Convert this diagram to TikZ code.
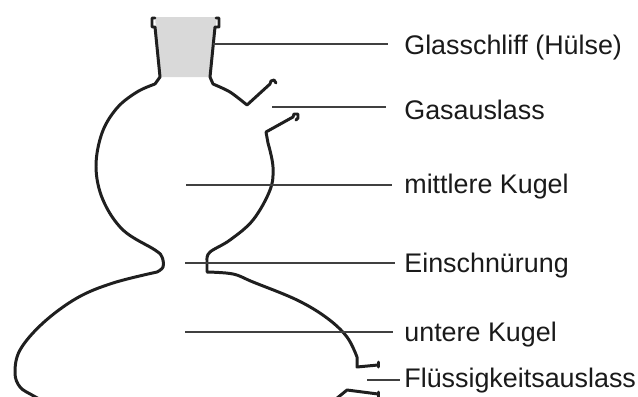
\documentclass[tikz,border=0pt]{standalone}
\usepackage{fontspec}
\setmainfont{Liberation Sans}
\usepackage{xcolor}
\definecolor{schliffgray}{HTML}{D9D9D9}
\definecolor{leadergray}{HTML}{404040}
\definecolor{labeltext}{HTML}{1A1A1A}

\begin{document}
\begin{tikzpicture}[x=0.02cm,y=-0.02cm]
  \tikzset{glasswall/.style={draw=black!88,line width=1.7pt,line join=round,line cap=round}}
  \tikzset{leader/.style={draw=leadergray,line width=0.75pt}}
  \tikzset{partlabel/.style={anchor=west,font=\fontsize{15.3pt}{17pt}\selectfont,inner sep=0pt,text=labeltext,text height=11.2pt,text depth=3.2pt}}
  \clip (0,0) rectangle (638,396);
  % ground joint
  \fill[schliffgray] (155,17) -- (217,17) -- (210,77) -- (160,77) -- cycle;
  % outline, left side
  \draw[glasswall] (155,18) -- (152,18) -- (152,27) -- (155,27) -- (160,77) -- (155,84)
    plot[smooth,tension=0.6] coordinates {(155,84) (137,92) (117,108) (102,133) (96,167) (103,200) (123,230) (155,250) (162,257) (163,267) (157,272)}
    plot[smooth,tension=0.6] coordinates {(157,272) (113,283) (77,298) (43,323) (20,350) (15,373) (20,387) (32,395) (45,402)};
  % outline, right side with gas outlet
  \draw[glasswall] (216,18) -- (219,18) -- (219,27) -- (215,27) -- (210,77) -- (213,84)
    plot[smooth,tension=0.5] coordinates {(213,84) (230,92) (247,105)}
    -- (270,84) -- (271,81) -- (274,80) -- (276,83);
  \draw[glasswall] (296,120) -- (298,118) -- (298,114) -- (294,114) -- (293,117) -- (266,132) -- (268,143)
    plot[smooth,tension=0.6] coordinates {(268,143) (273,167) (270,190) (253,220) (230,240) (210,252) (207,260)}
    -- (207,272)
    plot[smooth,tension=0.6] coordinates {(207,272) (233,274) (253,282) (297,300) (327,318) (347,337) (357,357)}
    -- (357,367) -- (378,365);
  \draw[glasswall] (378,362) -- (378,367);
  % liquid outlet, lower wall
  \draw[glasswall] (336,399) -- (347,390) -- (378,394);
  \draw[glasswall] (378,392) -- (378,397);
  % labels
  \node[partlabel] (schliff) at (404,47) {Glasschliff (Hülse)};
  \node[partlabel] (gas) at (404,112) {Gasauslass};
  \node[partlabel] (mitte) at (404,186) {mittlere Kugel};
  \node[partlabel] (enge) at (404,265) {Einschnürung};
  \node[partlabel] (unten) at (404,334) {untere Kugel};
  \node[partlabel] (fluessig) at (404,380) {Flüssigkeitsauslass};
  % leader lines
  \coordinate (schliffend) at (213,44);
  \coordinate (gasend) at (272,107);
  \coordinate (mitteend) at (186,185);
  \coordinate (engeend) at (185,263);
  \coordinate (untenend) at (185,332);
  \coordinate (fluessigend) at (367,380);
  \draw[leader,shorten >=0.32cm] (schliffend) -- (schliffend -| schliff.west);
  \draw[leader,shorten >=0.36cm] (gasend) -- (gasend -| gas.west);
  \draw[leader,shorten >=0.24cm] (mitteend) -- (mitteend -| mitte.west);
  \draw[leader,shorten >=0.18cm] (engeend) -- (engeend -| enge.west);
  \draw[leader,shorten >=0.22cm] (untenend) -- (untenend -| unten.west);
  \draw[leader,shorten >=0.08cm] (fluessigend) -- (fluessigend -| fluessig.west);
\end{tikzpicture}
\end{document}
